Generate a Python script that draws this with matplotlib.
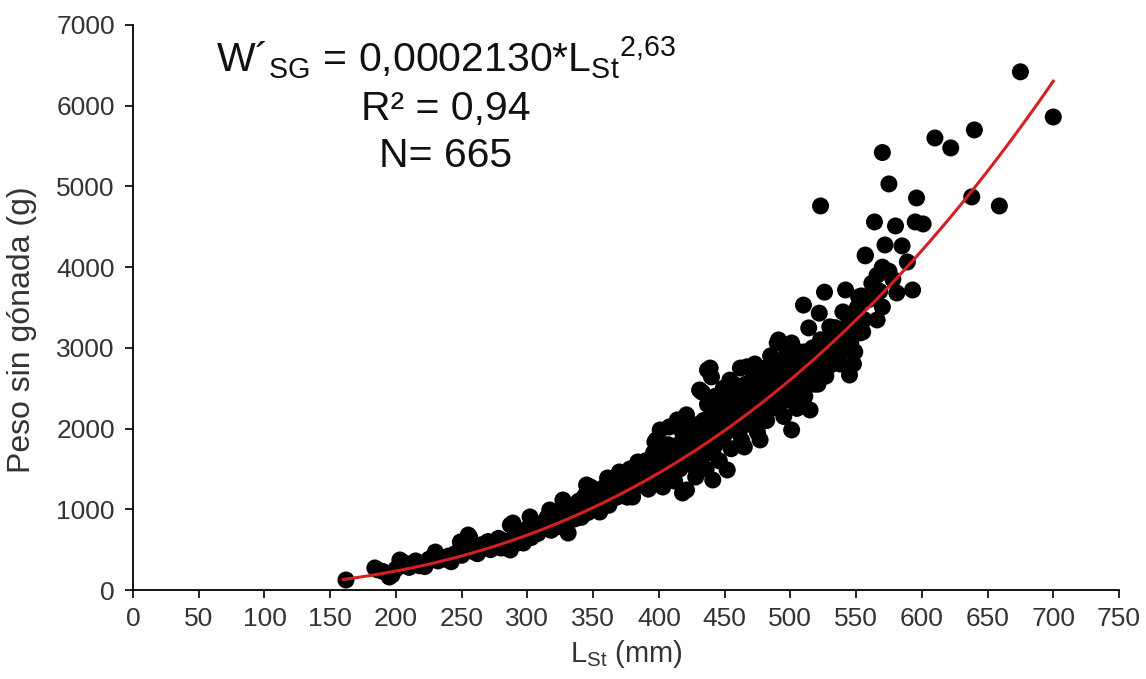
import numpy as np
from matplotlib import pyplot as plt

plt.rcParams['font.family'] = ['Liberation Sans', 'DejaVu Sans']
plt.rcParams['mathtext.fontset'] = 'custom'
plt.rcParams['mathtext.rm'] = 'Liberation Sans'
plt.rcParams['mathtext.it'] = 'Liberation Sans'

# datos: longitud estandar (mm) y peso sin gonada (g)
lst_mm = [
    162, 184, 186, 190, 195, 197, 200, 203, 205, 208, 210, 212,
    215, 218, 220, 222, 225, 228, 230, 232, 235, 238, 240, 242, 245, 248, 249, 250,
    252, 255, 256, 258, 260, 262, 265, 268, 270, 272, 275, 278, 280, 282, 284, 287,
    287, 289, 290, 292, 295, 297, 298, 300,
    302, 303, 305, 308, 310, 312, 315, 317, 318, 320, 322, 325, 327, 328, 330, 331,
    332, 334, 336, 338, 340, 341, 343, 345, 345, 346, 348, 349, 350,
    352, 354, 355, 356, 358, 360, 361, 362, 364, 366, 368, 370, 370, 372, 374, 376,
    378, 380, 380, 382, 384, 385, 386, 388, 390, 392, 394, 396, 397, 398, 399, 400,
    401, 403, 404, 406, 408, 410, 412, 414, 415, 416, 418, 418, 420, 421, 421, 423,
    425, 426, 428, 430, 431, 432, 433, 434, 436, 437, 438, 439, 440, 441, 442, 443,
    445, 446, 448, 449, 450,
    452, 452, 454, 455, 456, 458, 460, 462, 463, 464, 465, 466, 467, 468, 470, 471,
    472, 474, 475, 476, 477, 477, 478, 480, 481, 482, 484, 485, 486, 488, 489, 490,
    491, 492, 493, 494, 495, 497, 498, 499, 500,
    501, 501, 502, 504, 505, 506, 508, 510, 510, 511, 512, 514, 515, 516, 518, 520,
    521, 522, 523, 524, 526, 527, 528, 530, 531, 533, 535, 537, 539, 540, 540, 542,
    543, 545, 546, 548, 550, 552, 553, 554, 555, 557, 557,
    548, 551, 556, 560, 562, 566, 568, 575, 578,
    564, 566, 570, 570, 570, 572, 575, 580, 581, 585, 589, 593, 595, 596, 601, 610,
    622, 638, 640, 659, 675, 700,
    422, 424, 427, 429, 431, 433, 435, 437, 439, 441, 443, 444, 447, 449, 451, 453,
    455, 457, 459, 461, 463, 465, 467, 469, 471, 473, 475, 477, 479, 481, 483, 485,
    487, 489, 491, 493, 495, 497, 499, 503, 505, 507, 509, 511, 513, 515, 517, 519,
    521, 523, 525, 527, 529, 532, 534, 536, 538, 541, 544, 547, 549, 552, 554,
    381, 383, 387, 389, 391, 393, 395, 398, 402, 405, 407, 409, 411, 413, 417, 419,
    306, 314, 319, 324, 329, 333, 337, 339, 342, 344, 347, 351, 353, 357, 359, 363,
    365, 367, 369, 371, 373, 375, 377, 379,
]
peso_g = [
    124, 273, 250, 230, 161, 186, 260, 372, 347, 300, 280, 330,
    360, 300, 330, 290, 380, 410, 470, 360, 400, 380, 420, 350, 450, 480, 595, 430,
    520, 681, 657, 480, 550, 450, 560, 520, 600, 500, 580, 640, 520, 610, 520, 805,
    496, 830, 650, 580, 700, 582, 720, 760,
    905, 650, 780, 700, 820, 760, 900, 991, 740, 860, 780, 940, 1115, 820, 1000, 706,
    900, 1050, 880, 1000, 1080, 900, 1150, 1202, 1301, 960, 1276, 1050, 1150,
    1000, 1200, 966, 1250, 1100, 1300, 1388, 1050, 1200, 1350, 1150, 1450, 1462, 1250, 1350, 1150,
    1500, 1152, 1400, 1300, 1586, 1450, 1574, 1350, 1600, 1250, 1500, 1700, 1834, 1859, 1400, 1550,
    1983, 1276, 1700, 1450, 2020, 1650, 1350, 2107, 1800, 1500, 1202, 1950, 1700, 2170, 1239, 1850,
    1550, 2050, 1400, 1900, 2478, 1700, 2450, 2100, 1500, 2726, 1950, 2750, 2640, 1363, 2200, 1800,
    2050, 1600, 2300, 1900, 2150,
    1487, 2400, 2600, 1750, 2250, 2000, 2450, 2750, 1850, 2150, 1772, 2550, 2765, 2300, 2050, 2500,
    2650, 2200, 1950, 2400, 1859, 2069, 2600, 2300, 2750, 2100, 2500, 2900, 2250, 2650, 2400, 3060,
    3098, 2300, 2800, 2550, 2150, 2912, 2450, 2700, 2350,
    3060, 1983, 2600, 2850, 2250, 2500, 2750, 3530, 2392, 2950, 2650, 3247, 2230, 2800, 2550, 3000,
    2700, 3430, 4758, 2850, 3690, 3100, 2750, 3260, 2950, 3050, 2850, 3150, 2950, 3445, 2974, 3717,
    3200, 2664, 3050, 2800, 3300, 3630, 3185, 3643, 3197, 4140, 4150,
    3400, 3500, 3350, 3600, 3800, 3900, 3700, 3950, 3850,
    4560, 3346, 3507, 4000, 5420, 4275, 5031, 4510, 3680, 4263, 4064, 3717, 4560, 4857, 4535, 5600,
    5477, 4870, 5700, 4758, 6420, 5860,
    1600, 1750, 1650, 1800, 2000, 1650, 1850, 2300, 2050, 1700, 2400, 1950, 2100, 2500, 1950, 2150,
    2350, 2550, 2200, 1950, 2350, 2050, 2450, 2150, 2350, 2800, 2550, 2350, 2500, 2200, 2650, 2400,
    2550, 2750, 2600, 2450, 2750, 2600, 2900, 2450, 2700, 2950, 2600, 2400, 2800, 2600, 3000, 2800,
    2550, 3100, 2950, 2650, 3000, 2800, 3250, 3000, 2800, 3100, 3300, 3150, 2950, 3400, 3300,
    1250, 1450, 1450, 1500, 1400, 1350, 1600, 1500, 1600, 1550, 1800, 1500, 1750, 1600, 1750, 1850,
    720, 800, 880, 850, 950, 980, 950, 1100, 1000, 1100, 1100, 1100, 1050, 1150, 1200, 1150,
    1250, 1300, 1250, 1350, 1300, 1400, 1300, 1350,
]

# modelo potencial ajustado (a*L^b)
coef_a = 0.000213
coef_b = 2.626
curva_l = np.linspace(160, 700, 200)
curva_w = coef_a * curva_l ** coef_b

fig = plt.figure(figsize=(11.46, 6.79), dpi=100)
ax = fig.add_axes([133 / 1146, 1 - 590 / 679, 986 / 1146, 565 / 679])

ax.scatter(lst_mm, peso_g, s=150, color='black', edgecolors='none', zorder=2)
ax.plot(curva_l, curva_w, color='#d42020', linewidth=2.2, zorder=3)

ax.set_xlim(0, 750)
ax.set_ylim(0, 7000)
ax.set_xticks(np.arange(0, 751, 50))
ax.set_yticks(np.arange(0, 7001, 1000))
ax.spines['top'].set_visible(False)
ax.spines['right'].set_visible(False)
ax.spines['left'].set_linewidth(1.3)
ax.spines['bottom'].set_linewidth(1.3)
ax.tick_params(axis='both', direction='out', length=6, width=1.2,
               labelsize=19, labelcolor='#333333')
ax.tick_params(axis='y', pad=7)
ax.tick_params(axis='x', pad=6)

ax.set_xlabel(r'L$_{\mathrm{St}}$ (mm)', fontsize=21, color='#333333')
ax.set_ylabel('Peso sin gónada (g)', fontsize=23, color='#333333')
ax.xaxis.set_label_coords(0.5, -0.085)
ax.yaxis.set_label_coords(-0.097, 0.46)

cx = 446 / 1146
fig.text(cx, 1 - 72 / 679,
         r"W´$_{\mathrm{SG}}$ = 0,0002130*L$_{\mathrm{St}}$$^{\mathrm{2{,}63}}$",
         ha='center', va='baseline', fontsize=29.5, color='#111111')
fig.text(cx, 1 - 120 / 679, 'R² = 0,94', ha='center', va='baseline',
         fontsize=29.5, color='#111111')
fig.text(cx, 1 - 167 / 679, 'N= 665', ha='center', va='baseline',
         fontsize=29.5, color='#111111')

fig.savefig('out.png', dpi=100)
